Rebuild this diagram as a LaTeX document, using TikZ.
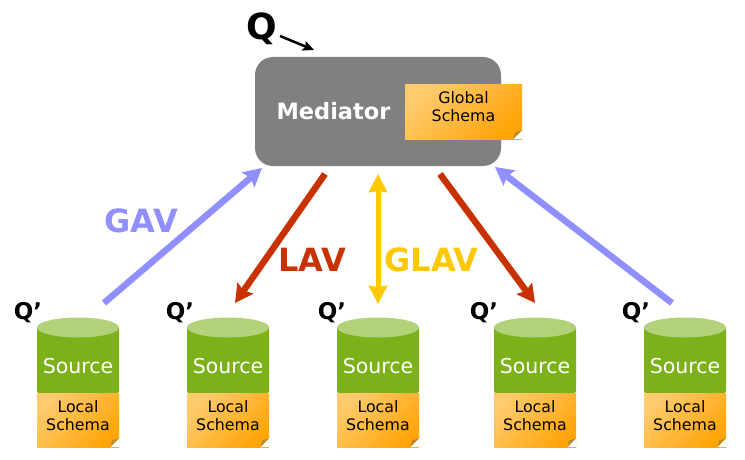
\documentclass[tikz,border=0pt]{standalone}
\usepackage{fontspec}
\setmainfont{DejaVu Sans}
\usetikzlibrary{arrows.meta}
\definecolor{medgray}{HTML}{808080}
\definecolor{srcgreen}{HTML}{7CB11A}
\definecolor{srctop}{HTML}{B2D27A}
\definecolor{notelight}{HTML}{FFCB6E}
\definecolor{notedark}{HTML}{FFA50A}
\definecolor{notefold}{HTML}{C08A28}
\definecolor{gavblue}{HTML}{8F8FFF}
\definecolor{lavred}{HTML}{C83200}
\definecolor{glavyellow}{HTML}{FFC800}
\tikzset{
	schema/.style={rectangle, inner sep=0pt, top color=notelight, bottom color=notedark, shading angle=45},
	schemalabel/.style={align=center, font=\fontsize{15.8}{18}\selectfont},
	mapping/.style={line width=6.5pt, -{Stealth[length=18pt, width=19pt, inset=3pt]}},
	maplabel/.style={font=\fontsize{32}{34}\selectfont\bfseries},
	qprime/.style={font=\fontsize{23}{26}\selectfont\bfseries}
}
\begin{document}
\begin{tikzpicture}[x=1pt, y=-1pt]
	\useasboundingbox (0,0) rectangle (745,460);
	\node[rectangle, fill=medgray, rounded corners=18pt, minimum width=246pt, minimum height=109pt] (mediator) at (378,111.5) {};
	\node[text=white, font=\fontsize{22.5}{24}\selectfont\bfseries] (medlabel) at (333.5,111) {Mediator};
	\node[schema, minimum width=117pt, minimum height=54pt] (global) at (463.5,112) {};
	\node[schemalabel] (globallabel) at (463.5,107) {Global\\Schema};
	\fill[white] (global.south east) -- ++(-9,0) -- ++(9,-9) -- cycle;
	\fill[notefold] (global.south east) ++(-9,0) -- ++(2,-7) -- ++(7,-2) -- cycle;
	\node[font=\fontsize{36}{40}\selectfont\bfseries] (q) at (262,29) {Q};
	\node[shape=coordinate] (qa) at (280,36) {};
	\node[shape=coordinate] (qb) at (314,50) {};
	\draw[line width=2.5pt, -{Stealth[length=11pt, width=10pt, inset=2pt]}] (qa) -- (qb);
	\foreach \i/\x/\qx in {1/78/28, 2/228/180, 3/378/332, 4/535/484, 5/685/636}{
		\fill[srcgreen, rounded corners=2pt] (\x-41,327) -- (\x-41,393) -- (\x+41,393) -- (\x+41,327) -- cycle;
		\fill[srctop] (\x,327.5) ellipse (41 and 10);
		\node[text=white, font=\fontsize{20.5}{22}\selectfont] (source\i) at (\x,366.5) {Source};
		\node[schema, minimum width=82pt, minimum height=54pt] (local\i) at (\x,420) {};
		\node[schemalabel] (locallabel\i) at (\x,416) {Local\\Schema};
		\fill[white] (local\i.south east) -- ++(-9,0) -- ++(9,-9) -- cycle;
		\fill[notefold] (local\i.south east) ++(-9,0) -- ++(2,-7) -- ++(7,-2) -- cycle;
		\node[qprime] (qp\i) at (\qx,313) {Q’};
	}
	% mappings
	\node[shape=coordinate] (gava) at (104,303) {};
	\node[shape=coordinate] (gavb) at (262,168) {};
	\node[shape=coordinate] (lava) at (325,174) {};
	\node[shape=coordinate] (lavb) at (235,303) {};
	\node[shape=coordinate] (glava) at (378,174) {};
	\node[shape=coordinate] (glavb) at (378,304) {};
	\node[shape=coordinate] (lavc) at (440,174) {};
	\node[shape=coordinate] (lavd) at (535,303) {};
	\node[shape=coordinate] (gavc) at (672,303) {};
	\node[shape=coordinate] (gavd) at (495,167) {};
	\draw[mapping, gavblue] (gava) -- (gavb);
	\draw[mapping, lavred] (lava) -- (lavb);
	\draw[line width=5pt, glavyellow, {Stealth[length=18pt, width=18pt, inset=1pt]}-{Stealth[length=18pt, width=18pt, inset=1pt]}] (glava) -- (glavb);
	\draw[mapping, lavred] (lavc) -- (lavd);
	\draw[mapping, gavblue] (gavc) -- (gavd);
	\node[maplabel, text=gavblue] (gav) at (141,221) {GAV};
	\node[maplabel, text=lavred] (lav) at (312,260) {LAV};
	\node[maplabel, text=glavyellow] (glav) at (431.5,260) {GLAV};
\end{tikzpicture}
\end{document}
